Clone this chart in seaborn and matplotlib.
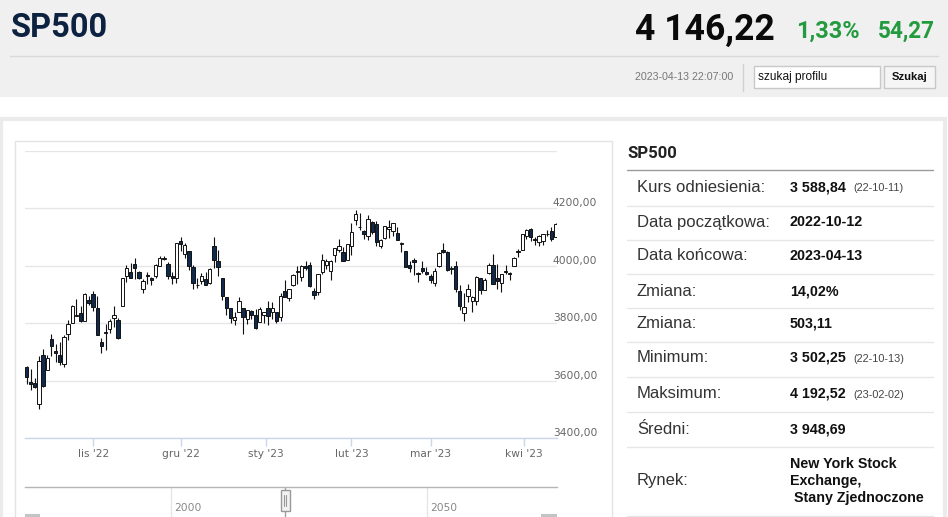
import numpy as np
import pandas as pd
import matplotlib
matplotlib.use("Agg")
import matplotlib.pyplot as plt
import seaborn as sns
from matplotlib.patches import Rectangle

# ---------------- data ----------------
opens = [3647.51, 3595.86, 3590.83, 3520.37, 3690.41, 3638.65, 3746.26, 3703.11, 3689.05, 3657.10,
         3762.01, 3799.44, 3825.97, 3834.69, 3808.26, 3881.85,
         3901.79, 3852.90, 3733.25, 3766.98, 3780.71, 3817.02, 3810.94, 3859.89, 3963.72, 3977.97,
         4006.41, 3976.82, 3919.26, 3966.39, 3956.23, 3965.51, 4000.30, 4023.34, 4005.36, 3964.19, 3957.18,
         4087.14, 4040.17, 4052.02, 3996.63, 3933.28, 3947.79, 3954.17, 3939.29, 4069.38, 4015.54,
         3958.37, 3890.91, 3853.79, 3810.47, 3839.49, 3853.26, 3815.11, 3843.34, 3829.56, 3805.45, 3829.06,
         3853.29, 3840.36, 3839.74, 3823.37, 3910.82, 3888.57, 3932.35, 3977.57, 3960.60, 3999.28,
         4002.25, 3911.84, 3909.04, 3978.14, 4001.74, 3982.71, 4036.08, 4053.72, 4049.27, 4020.85,
         4070.07, 4158.68, 4136.69, 4119.57, 4105.35, 4153.47, 4144.25, 4068.92, 4096.62, 4126.70,
         4119.50, 4114.75, 4077.39, 4052.35, 4001.83, 4018.60, 3973.24, 3992.36, 3977.19,
         3963.34, 3938.68, 3998.02, 4055.15, 4048.26, 3987.55, 3998.66, 3912.77, 3835.12, 3894.01,
         3876.74, 3878.93, 3958.69, 3917.47, 3975.89, 4002.04, 3959.21, 3939.21, 3982.93, 3974.13,
         3999.53, 4046.74, 4056.18,
         4102.20, 4128.03, 4094.50, 4081.15, 4085.20, 4110.29, 4121.72, 4100.04]
highs = [3652.17, 3640.66, 3608.34, 3685.41, 3712.00, 3689.73, 3762.79, 3728.58, 3736.00, 3757.89,
         3810.74, 3862.85, 3886.15, 3859.95, 3905.42, 3893.73,
         3911.79, 3894.44, 3750.59, 3796.34, 3813.95, 3859.40, 3818.20, 3958.33, 4001.48, 4008.97,
         4028.84, 3983.09, 3954.33, 3979.89, 3962.00, 4005.88, 4033.78, 4034.02, 4012.27, 3976.77, 4080.11,
         4100.51, 4080.48, 4052.45, 4001.51, 3957.57, 3974.19, 3977.02, 3990.71, 4100.96, 4053.76,
         3958.37, 3890.91, 3854.86, 3838.24, 3889.82, 3853.26, 3845.80, 3846.65, 3848.32, 3858.19, 3839.85,
         3878.46, 3873.16, 3839.74, 3906.19, 3950.57, 3919.83, 3970.07, 3997.76, 4003.95, 4015.39,
         4014.16, 3922.94, 3972.96, 4039.31, 4023.92, 4019.55, 4061.57, 4094.21, 4063.85, 4077.16,
         4148.95, 4192.52, 4182.36, 4124.63, 4176.54, 4156.85, 4156.23, 4094.36, 4138.90, 4159.77,
         4148.11, 4136.54, 4081.51, 4052.35, 4017.37, 4028.30, 3978.25, 4018.05, 3997.50,
         3971.73, 3990.84, 4048.29, 4078.49, 4050.00, 4000.41, 4017.81, 3934.05, 3905.05, 3937.29,
         3894.26, 3964.46, 3958.91, 3956.62, 4009.08, 4039.49, 4007.66, 3972.74, 4003.83, 3979.20,
         4030.59, 4057.85, 4110.75,
         4127.66, 4133.13, 4099.69, 4107.32, 4109.50, 4124.26, 4134.37, 4150.26]
lows = [3588.10, 3568.45, 3573.86, 3502.25, 3579.68, 3638.65, 3686.53, 3666.51, 3656.44, 3647.42,
        3741.65, 3799.44, 3824.07, 3803.79, 3808.26, 3863.18,
        3843.80, 3758.68, 3698.15, 3708.84, 3764.70, 3786.28, 3744.22, 3859.89, 3944.82, 3956.40,
        3953.17, 3954.34, 3906.54, 3935.98, 3933.34, 3956.88, 3998.66, 4020.76, 3955.77, 3937.65, 3938.58,
        4050.87, 4026.63, 3984.49, 3918.39, 3922.68, 3935.83, 3933.04, 3935.30, 3993.03, 3965.65,
        3879.45, 3827.91, 3800.04, 3795.62, 3839.49, 3764.49, 3797.01, 3813.22, 3780.78, 3805.45, 3800.34,
        3794.33, 3815.77, 3802.42, 3809.56, 3890.42, 3877.29, 3928.54, 3937.56, 3947.67, 3984.57,
        3926.59, 3885.54, 3897.86, 3971.64, 3989.79, 3949.06, 4013.29, 4048.70, 4015.55, 4020.44,
        4037.20, 4141.88, 4123.36, 4093.38, 4088.39, 4111.67, 4069.67, 4060.79, 4092.67, 4095.01,
        4103.98, 4089.35, 4047.95, 3995.19, 3976.90, 3969.19, 3943.08, 3973.55, 3968.98,
        3939.05, 3928.16, 3995.17, 4044.61, 3980.31, 3969.76, 3908.70, 3846.32, 3808.86, 3873.63,
        3838.24, 3864.11, 3901.27, 3916.89, 3971.19, 3936.17, 3919.05, 3909.16, 3970.49, 3951.53,
        3999.53, 4032.10, 4056.18,
        4094.18, 4086.87, 4072.56, 4069.84, 4072.55, 4102.61, 4086.94, 4099.40]
closes = [3612.39, 3588.84, 3577.03, 3669.91, 3583.07, 3677.95, 3719.98, 3695.16, 3665.78, 3752.75,
          3797.34, 3859.11, 3830.60, 3807.30, 3901.06, 3871.98,
          3856.10, 3759.69, 3719.89, 3770.55, 3806.80, 3828.11, 3748.57, 3956.37, 3992.93, 3957.25,
          3991.73, 3958.79, 3946.56, 3965.34, 3949.94, 4003.58, 4027.26, 4026.12, 3963.94, 3957.63, 4080.11,
          4076.57, 4071.70, 3998.84, 3941.26, 3933.92, 3963.51, 3934.38, 3990.56, 4019.65, 3995.32,
          3895.75, 3852.36, 3817.66, 3821.62, 3878.44, 3822.39, 3844.82, 3829.25, 3783.22, 3849.28, 3839.50,
          3824.14, 3852.97, 3808.10, 3895.08, 3892.09, 3919.25, 3969.61, 3983.17, 3999.09, 3990.97,
          3928.86, 3898.85, 3972.61, 4019.81, 4016.95, 4016.22, 4060.43, 4070.56, 4017.77, 4076.60,
          4119.21, 4179.76, 4136.48, 4111.08, 4164.00, 4117.86, 4081.50, 4090.46, 4137.29, 4136.13,
          4147.60, 4090.41, 4079.09, 3997.34, 3991.05, 4012.32, 3970.04, 3982.24, 3970.15,
          3951.39, 3981.35, 4045.64, 4048.42, 3986.37, 3992.01, 3918.32, 3861.59, 3855.76, 3919.29,
          3891.93, 3960.28, 3916.64, 3951.57, 4002.87, 3936.97, 3948.72, 3970.99, 3977.53, 3971.27,
          4027.81, 4050.83, 4109.31,
          4124.51, 4100.60, 4090.38, 4105.02, 4109.11, 4108.94, 4091.95, 4146.22]

market_holidays = ["2022-11-24", "2022-12-26", "2023-01-02", "2023-01-16", "2023-02-20", "2023-04-07"]
month_starts = ["2022-11-01", "2022-12-01", "2023-01-01", "2023-02-01", "2023-03-01", "2023-04-01"]
month_labels = ["lis '22", "gru '22", "sty '23", "lut '23", "mar '23", "kwi '23"]
y_ticks = [3400, 3600, 3800, 4000, 4200, 4400]
y_tick_labels = ["3400,00", "3600,00", "3800,00", "4000,00", "4200,00", ""]
nav_years = [2000, 2050]
nav_labels = ["2000", "2050"]

title = "SP500"
last_price = "4 146,22"
change_pct = "1,33%"
change_abs = "54,27"
timestamp = "2023-04-13 22:07:00"

row_labels = ["Kurs odniesienia:", "Data początkowa:", "Data końcowa:", "Zmiana:", "Zmiana:",
              "Minimum:", "Maksimum:", "Średni:", "Rynek:"]
row_values = ["3 588,84", "2022-10-12", "2023-04-13", "14,02%", "503,11",
              "3 502,25", "4 192,52", "3 948,69", "New York Stock\nExchange,\n Stany Zjednoczone"]
row_notes = ["(22-10-11)", "", "", "", "", "(22-10-13)", "(23-02-02)", "", ""]

# ---------------- figure ----------------
sns.set_theme(style="white")
plt.rcParams["font.family"] = ["DejaVu Sans"]
W, H = 948, 517
fig = plt.figure(figsize=(W / 100, H / 100), dpi=100, facecolor="white")

bg = fig.add_axes([0, 0, 1, 1], zorder=0)
bg.set_xlim(0, W)
bg.set_ylim(H, 0)
bg.axis("off")

HEAD = ["Roboto", "DejaVu Sans"]
ARIAL = ["Liberation Sans", "DejaVu Sans"]

# header band
bg.add_patch(Rectangle((0, 0), W, 97, facecolor="#f0f0f0", edgecolor="none"))
bg.plot([10, 938], [55.5, 55.5], color="#d9d9d9", lw=1)
bg.plot([743.5, 743.5], [64, 91], color="#d0d0d0", lw=1)
bg.add_patch(Rectangle((754, 66), 126, 22, facecolor="white", edgecolor="#c8c8c8", lw=1))
bg.add_patch(Rectangle((884, 66), 51, 22, facecolor="#f5f5f5", edgecolor="#c8c8c8", lw=1))

fits = []
def txt(x, y, s, target=None, **kw):
    t = bg.text(x, y, s, **kw)
    if target:
        fits.append((t, target))
    return t

txt(11, 28, title, 97, fontsize=23.5, fontweight="bold", color="#0d2240", family=HEAD, va="center", ha="left")
txt(775, 29.5, last_price, 140, fontsize=23.5, fontweight="bold", color="#0a0a0a", family=HEAD, va="center", ha="right")
txt(860, 31.5, change_pct, 64, fontsize=16, fontweight="bold", color="#249a3e", family=HEAD, va="center", ha="right")
txt(935, 31.5, change_abs, 57, fontsize=16, fontweight="bold", color="#249a3e", family=HEAD, va="center", ha="right")
txt(733, 77, timestamp, 98, fontsize=7, color="#777777", family=ARIAL, va="center", ha="right")
txt(758, 77, "szukaj profilu", 70, fontsize=9, color="#111111", family=ARIAL, va="center", ha="left")
txt(909.5, 77, "Szukaj", 36, fontsize=9, fontweight="bold", color="#111111", family=ARIAL, va="center", ha="center")

# page container
bg.add_patch(Rectangle((1.5, 119), 944, 410, facecolor="white", edgecolor="#ebebeb", lw=3))
bg.add_patch(Rectangle((15.5, 140.5), 597, 400, facecolor="white", edgecolor="#e3e3e3", lw=1))

# right info panel
txt(627, 153, title, 50, fontsize=11, fontweight="bold", color="#222222", family=HEAD, va="center", ha="left")
bg.plot([627, 933], [169.5, 169.5], color="#9a9a9a", lw=1)
row_y = [187, 222, 256, 291, 324, 358, 394, 429, 481]
sep_y = [205, 239, 273, 307, 341, 376, 411, 446, 515]
for yy in sep_y:
    bg.plot([627, 933], [yy + 0.5, yy + 0.5], color="#e6e6e6", lw=1)
for lab, val, note, yy in zip(row_labels, row_values, row_notes, row_y):
    txt(637, yy, lab, fontsize=12, color="#333333", family=ARIAL, va="center", ha="left")
    txt(790, yy, val, fontsize=10.3, fontweight="bold", color="#111111", family=ARIAL, va="center",
        ha="left", linespacing=1.3)
    if note:
        txt(853, yy + 1, note, fontsize=7.8, color="#444444", family=ARIAL, va="center", ha="left")

# ---------------- candlestick chart ----------------
dates = pd.bdate_range("2022-10-10", "2023-04-13", freq="C", holidays=market_holidays)
df = pd.DataFrame({"date": dates[:len(closes)], "open": opens, "high": highs, "low": lows, "close": closes})
df["idx"] = np.arange(len(df))
df["up"] = df["close"] >= df["open"]
df["body_lo"] = df[["open", "close"]].min(axis=1)
df["body_h"] = (df["close"] - df["open"]).abs()
n = len(df)

tick_pos = np.interp(pd.to_datetime(month_starts).asi8.astype(float),
                     df["date"].values.astype("datetime64[ns]").astype(np.int64).astype(float),
                     df["idx"].values.astype(float))

x0, x1 = 25, 557
y_top, y_bot = 150.8, 438.3
ax = fig.add_axes([x0 / W, 1 - y_bot / H, (x1 - x0) / W, (y_bot - y_top) / H], zorder=2)
ax.patch.set_visible(False)
step = (555.5 - 26.5) / (n - 1)
ax.set_xlim(-(26.5 - x0) / step, (n - 1) + (x1 - 555.5) / step)
ax.set_ylim(3400, 4400)

ax.vlines(df["idx"], df["low"], df["high"], color="#111111", lw=0.8, zorder=2)
ax.bar(df["idx"], df["body_h"], bottom=df["body_lo"], width=0.8,
       color=np.where(df["up"], "white", "#0f2a4c"), edgecolor="#111111", linewidth=0.7, zorder=3)

ax.set_yticks(y_ticks)
ax.set_yticklabels(y_tick_labels)
ax.yaxis.tick_right()
ax.tick_params(axis="y", length=0, pad=-3, labelsize=7.7, labelcolor="#666666")
for lbl in ax.get_yticklabels():
    lbl.set_va("bottom")
ax.grid(axis="y", color="#e6e6e6", lw=1, zorder=0)
ax.grid(axis="x", visible=False)

ax.set_xticks(tick_pos)
ax.set_xticklabels(month_labels)
ax.tick_params(axis="x", direction="out", length=6, width=1, color="#ccd6eb", pad=1.5,
               labelsize=7.7, labelcolor="#666666", bottom=True)
sns.despine(ax=ax, left=True, right=True, top=True, bottom=False)
ax.spines["bottom"].set_color("#ccd6eb")
ax.spines["bottom"].set_linewidth(1)

# ---------------- navigator ----------------
nav_lo, nav_hi = 1971.5, 2075.4
nav = fig.add_axes([x0 / W, 0, (x1 - x0) / W, (H - 487) / H], zorder=2)
nav.patch.set_visible(False)
nav.set_xlim(nav_lo, nav_hi)
nav.set_ylim(0, 1)
nav.set_yticks([])
nav.set_xticks([])
for s in ["left", "right", "bottom"]:
    nav.spines[s].set_visible(False)
nav.spines["top"].set_color("#b5b5b5")
nav.spines["top"].set_linewidth(1)
for yr, lab in zip(nav_years, nav_labels):
    nav.axvline(yr, color="#e6e6e6", lw=1, zorder=0)
    nav.text(yr + 0.7, 0.3, lab, fontsize=7.7, color="#888888", ha="left", va="center")

# handle & scrollbar (decoration)
bg.plot([285.5, 285.5], [487, 517], color="#a0a0a0", lw=1, zorder=3)
bg.add_patch(Rectangle((281, 490), 9, 21, facecolor="#f2f2f2", edgecolor="#999999", lw=1, zorder=4))
bg.plot([284.5, 284.5], [495, 506], color="#999999", lw=0.8, zorder=5)
bg.plot([286.5, 286.5], [495, 506], color="#999999", lw=0.8, zorder=5)
bg.add_patch(Rectangle((25, 514), 15, 4, facecolor="#c4c4c4", edgecolor="none"))
bg.add_patch(Rectangle((541, 514), 16, 4, facecolor="#c4c4c4", edgecolor="none"))

# fit some texts to their measured width
fig.canvas.draw()
for t, target in fits:
    w = t.get_window_extent().width
    if w > 0:
        t.set_fontsize(t.get_fontsize() * target / w)

fig.savefig("out.png", dpi=100, facecolor="white")
